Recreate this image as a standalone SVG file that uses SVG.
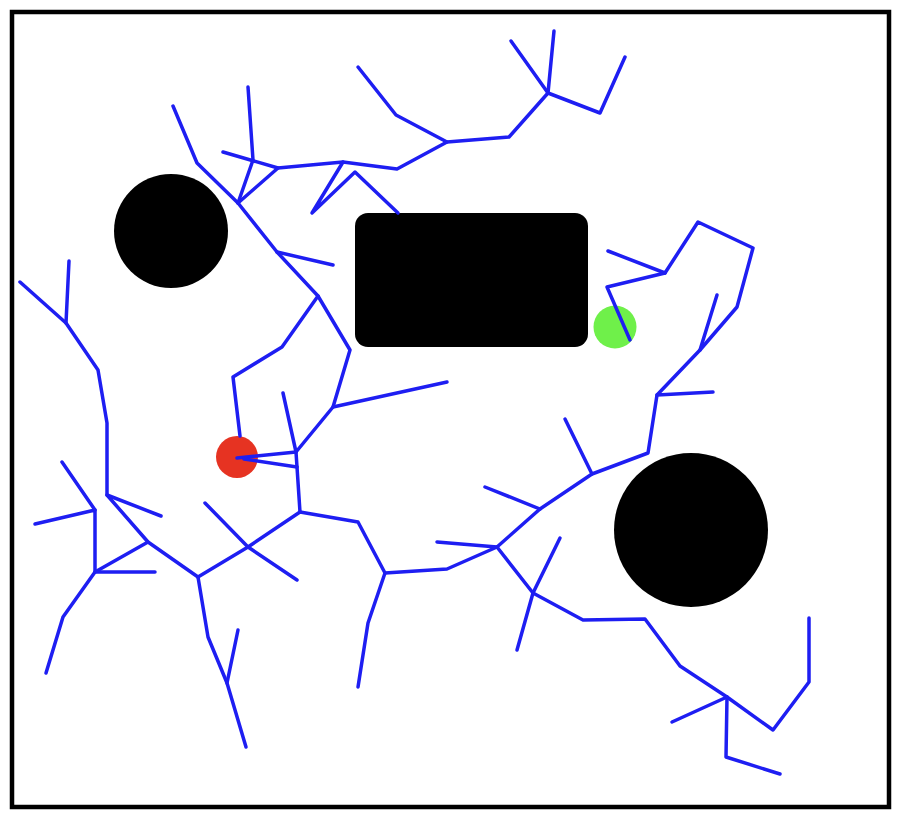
<svg xmlns="http://www.w3.org/2000/svg" width="904" height="820" viewBox="0 0 904 820">
<style>
.obs{fill:#000}
.e{fill:none;stroke:#1e1ef2;stroke-width:3.5;stroke-linejoin:round;stroke-linecap:round}
</style>
<rect x="0" y="0" width="904" height="820" fill="#fff"/>
<rect id="frame" x="12" y="12" width="877" height="795" fill="none" stroke="#000" stroke-width="4.5"/>
<g id="obstacle1"><circle class="obs" cx="171" cy="231" r="57"/></g>
<g id="obstacle2"><rect class="obs" x="355" y="213" width="233" height="134" rx="13"/></g>
<g id="obstacle3"><circle class="obs" cx="691" cy="530" r="77"/></g>
<g id="start"><circle cx="237" cy="457" r="21" fill="#e63322"/></g>
<g id="goal"><circle cx="615" cy="327" r="21.5" fill="#6ff04a"/></g>
<g id="connectors">
<polyline class="e" points="173,106 197,163 238,203 277,252 318,296 350,350 333,407 296,452"/>
<polyline class="e" points="277,252 333,265"/>
<polyline class="e" points="248,87 253,160 238,203"/>
<polyline class="e" points="223,152 278,168 343,162 397,169 447,142 509,137 548,93 600,113 625,57"/>
<polyline class="e" points="278,168 238,203"/>
<polyline class="e" points="447,142 396,115 358,67"/>
<polyline class="e" points="548,93 511,41"/>
<polyline class="e" points="548,93 554,31"/>
<polyline class="e" points="343,162 312,213 355,172 398,213"/>
<polyline class="e" points="318,296 282,347 233,377 240,436"/>
<polyline class="e" points="333,407 447,382"/>
<polyline class="e" points="283,393 296,452 300,512"/>
<polyline class="e" points="237,458 296,452"/>
<polyline class="e" points="244,459 297,467"/>
<polyline class="e" points="300,512 358,522 385,573 447,569 497,547 540,509 592,474 648,453 657,395 700,350 737,307 753,248 698,222 665,273 608,251"/>
<polyline class="e" points="665,273 607,287 630,340"/>
<polyline class="e" points="700,350 717,295"/>
<polyline class="e" points="657,395 713,392"/>
<polyline class="e" points="540,509 485,487"/>
<polyline class="e" points="592,474 565,419"/>
<polyline class="e" points="497,547 437,542"/>
<polyline class="e" points="497,547 533,593 583,620 645,619 680,666 727,697 773,730 809,682 809,618"/>
<polyline class="e" points="533,593 560,538"/>
<polyline class="e" points="533,593 517,650"/>
<polyline class="e" points="727,697 672,722"/>
<polyline class="e" points="727,697 726,757 780,774"/>
<polyline class="e" points="385,573 368,623 358,687"/>
<polyline class="e" points="300,512 248,547 198,577"/>
<polyline class="e" points="205,503 248,547 297,580"/>
<polyline class="e" points="198,577 148,542 107,495 107,423 98,370 66,323 20,282"/>
<polyline class="e" points="66,323 69,261"/>
<polyline class="e" points="107,495 161,516"/>
<polyline class="e" points="198,577 208,637 227,683 246,747"/>
<polyline class="e" points="227,683 238,630"/>
<polyline class="e" points="148,542 95,572 63,617 46,673"/>
<polyline class="e" points="95,572 155,572"/>
<polyline class="e" points="95,572 95,510 35,524"/>
<polyline class="e" points="95,510 62,462"/>
</g>
</svg>
